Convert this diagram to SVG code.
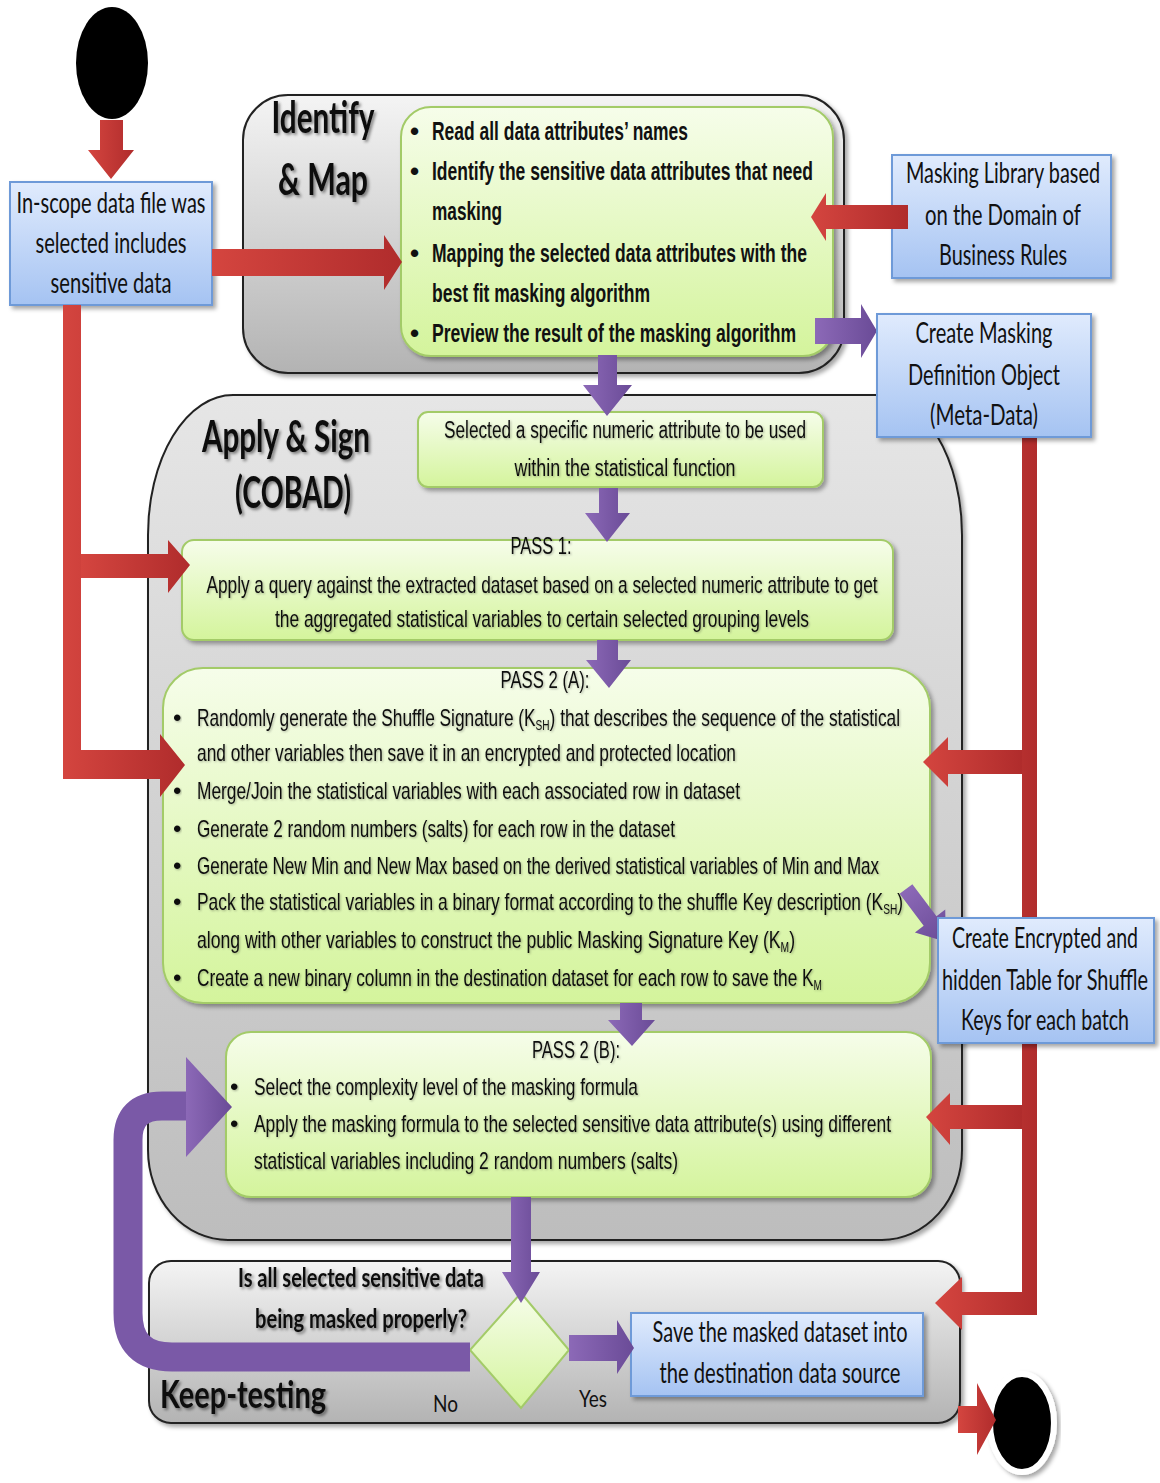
<svg xmlns="http://www.w3.org/2000/svg" width="1160" height="1483" viewBox="0 0 1160 1483">
  <defs>
    <linearGradient id="gBlue" x1="0" y1="0" x2="0" y2="1">
      <stop offset="0" stop-color="#e0ebfd"/>
      <stop offset="1" stop-color="#a5c3f2"/>
    </linearGradient>
    <linearGradient id="gGreen" x1="0" y1="0" x2="0" y2="1">
      <stop offset="0" stop-color="#f6fdea"/>
      <stop offset="1" stop-color="#d4f49c"/>
    </linearGradient>
    <linearGradient id="gGrayA" x1="0" y1="0" x2="0" y2="1">
      <stop offset="0" stop-color="#f4f4f4"/>
      <stop offset="1" stop-color="#b3b3b3"/>
    </linearGradient>
    <linearGradient id="gGrayB" x1="0" y1="0" x2="0" y2="1">
      <stop offset="0" stop-color="#e6e6e6"/>
      <stop offset="1" stop-color="#bdbdbd"/>
    </linearGradient>
    <linearGradient id="gRed" x1="0" y1="0" x2="1" y2="0">
      <stop offset="0" stop-color="#d4453f"/>
      <stop offset="1" stop-color="#b02c2c"/>
    </linearGradient>
    <linearGradient id="gPurple" x1="0" y1="0" x2="1" y2="0">
      <stop offset="0" stop-color="#8c69b7"/>
      <stop offset="1" stop-color="#6a4b97"/>
    </linearGradient>
    <filter id="shadow" x="-10%" y="-10%" width="120%" height="130%">
      <feDropShadow dx="3" dy="3" stdDeviation="2" flood-color="#000" flood-opacity="0.35"/>
    </filter>
    <filter id="tshadow" x="-10%" y="-20%" width="130%" height="150%">
      <feDropShadow dx="2" dy="2" stdDeviation="1.5" flood-color="#000" flood-opacity="0.45"/>
    </filter>
    <filter id="lshadow" x="-5%" y="-20%" width="110%" height="150%">
      <feDropShadow dx="1" dy="1" stdDeviation="0.8" flood-color="#000" flood-opacity="0.3"/>
    </filter>
  </defs>
  <style>
    .blue { fill: url(#gBlue); stroke: #6e9ad8; stroke-width: 2; filter: url(#shadow); }
    .green { fill: url(#gGreen); stroke: #a3cb68; stroke-width: 2; filter: url(#shadow); }
    .lane { stroke: #222; stroke-width: 2; filter: url(#shadow); }
    .red { fill: url(#gRed); }
    .purple { fill: url(#gPurple); }
    .t { font-family: "Liberation Sans", Arial, sans-serif; font-size: 24px; fill: #111; filter: url(#lshadow); }
    .tb { font-family: "Liberation Sans", Arial, sans-serif; font-size: 26px; font-weight: bold; fill: #111; }
    .c { font-family: Lato, "Open Sans", sans-serif; font-size: 28px; fill: #111; }
    .title { font-family: Lato, "Open Sans", sans-serif; font-size: 44px; font-weight: bold; fill: #111; filter: url(#tshadow); }
    .q { font-family: Lato, "Open Sans", sans-serif; font-size: 26px; font-weight: bold; fill: #111; filter: url(#tshadow); }
    .m { text-anchor: middle; }
    .sub { font-size: 14px; }
  </style>

  <!-- swimlane containers -->
  <g id="lane-identify">
    <rect class="lane" x="243" y="95" width="601" height="278" rx="45" ry="45" fill="url(#gGrayA)"/>
    <text class="title m" x="323" y="133" textLength="103" lengthAdjust="spacingAndGlyphs">Identify</text>
    <text class="title m" x="323" y="195" textLength="90" lengthAdjust="spacingAndGlyphs">&amp; Map</text>
  </g>
  <g id="lane-apply">
    <path class="lane" fill="url(#gGrayB)" d="M233,395 H877 A85,140 0 0 1 962,535 V1150 A80,90 0 0 1 882,1240 H228 A80,90 0 0 1 148,1150 V535 A85,140 0 0 1 233,395 Z"/>
    <text class="title m" x="286" y="452" textLength="168" lengthAdjust="spacingAndGlyphs">Apply &amp; Sign</text>
    <text class="title m" x="293" y="508" textLength="116" lengthAdjust="spacingAndGlyphs">(COBAD)</text>
  </g>
  <g id="lane-keep-testing">
    <rect class="lane" x="149" y="1261" width="811" height="162" rx="22" ry="22" fill="url(#gGrayA)"/>
    <text class="title" x="160" y="1408" style="font-size:38px" textLength="166" lengthAdjust="spacingAndGlyphs">Keep-testing</text>
  </g>

  <!-- start node -->
  <g id="start">
    <ellipse cx="112" cy="63" rx="36" ry="56" fill="#000"/>
  </g>

  <!-- source file -->
  <g id="in-scope">
    <rect class="blue" x="10" y="182" width="202" height="123"/>
    <text class="c m" x="111" y="213" textLength="189" lengthAdjust="spacingAndGlyphs">In-scope data file was</text>
    <text class="c m" x="111" y="253" textLength="151" lengthAdjust="spacingAndGlyphs">selected includes</text>
    <text class="c m" x="111" y="293" textLength="121" lengthAdjust="spacingAndGlyphs">sensitive data</text>
  </g>

  <!-- identify & map steps -->
  <g id="identify-steps">
    <rect class="green" x="401" y="107" width="432" height="249" rx="30" ry="30"/>
    <text class="tb" x="410" y="140">•</text>
    <text class="tb" x="432" y="140" textLength="256" lengthAdjust="spacingAndGlyphs">Read all data attributes’ names</text>
    <text class="tb" x="410" y="180">•</text>
    <text class="tb" x="432" y="180" textLength="381" lengthAdjust="spacingAndGlyphs">Identify the sensitive data attributes that need</text>
    <text class="tb" x="432" y="220" textLength="70" lengthAdjust="spacingAndGlyphs">masking</text>
    <text class="tb" x="410" y="262">•</text>
    <text class="tb" x="432" y="262" textLength="375" lengthAdjust="spacingAndGlyphs">Mapping the selected data attributes with the</text>
    <text class="tb" x="432" y="302" textLength="218" lengthAdjust="spacingAndGlyphs">best fit masking algorithm</text>
    <text class="tb" x="410" y="342">•</text>
    <text class="tb" x="432" y="342" textLength="364" lengthAdjust="spacingAndGlyphs">Preview the result of the masking algorithm</text>
  </g>

  <g id="masking-library">
    <rect class="blue" x="892" y="155" width="219" height="123"/>
    <text class="c m" x="1003" y="183" textLength="194" lengthAdjust="spacingAndGlyphs">Masking Library based</text>
    <text class="c m" x="1003" y="225" textLength="156" lengthAdjust="spacingAndGlyphs">on the Domain of</text>
    <text class="c m" x="1003" y="265" textLength="128" lengthAdjust="spacingAndGlyphs">Business Rules</text>
  </g>

  <!-- apply & sign steps -->
  <g id="select-attribute">
    <rect class="green" x="418" y="412" width="405" height="75" rx="10" ry="10"/>
    <text class="t m" x="625" y="438" style="font-size:23px" textLength="362" lengthAdjust="spacingAndGlyphs">Selected a specific numeric attribute to be used</text>
    <text class="t m" x="625" y="476" style="font-size:23px" textLength="221" lengthAdjust="spacingAndGlyphs">within the statistical function</text>
  </g>

  <g id="pass-1">
    <rect class="green" x="182" y="540" width="711" height="100" rx="12" ry="12"/>
    <text class="t m" x="541" y="554" textLength="61" lengthAdjust="spacingAndGlyphs">PASS 1:</text>
    <text class="t m" x="542" y="593" textLength="671" lengthAdjust="spacingAndGlyphs">Apply a query against the extracted dataset based on a selected numeric attribute to get</text>
    <text class="t m" x="542" y="627" textLength="534" lengthAdjust="spacingAndGlyphs">the aggregated statistical variables to certain selected grouping levels</text>
  </g>

  <g id="pass-2a">
    <rect class="green" x="163" y="668" width="767" height="335" rx="40" ry="40"/>
    <text class="t m" x="545" y="688" textLength="89" lengthAdjust="spacingAndGlyphs">PASS 2 (A):</text>
    <text class="t" x="173" y="726">•</text>
    <text class="t" x="197" y="726" textLength="703" lengthAdjust="spacingAndGlyphs">Randomly generate the Shuffle Signature (K<tspan class="sub" baseline-shift="-4">SH</tspan>) that describes the sequence of the statistical</text>
    <text class="t" x="197" y="761" textLength="539" lengthAdjust="spacingAndGlyphs">and other variables then save it in an encrypted and protected location</text>
    <text class="t" x="173" y="799">•</text>
    <text class="t" x="197" y="799" textLength="543" lengthAdjust="spacingAndGlyphs">Merge/Join the statistical variables with each associated row in dataset</text>
    <text class="t" x="173" y="837">•</text>
    <text class="t" x="197" y="837" textLength="478" lengthAdjust="spacingAndGlyphs">Generate 2 random numbers (salts) for each row in the dataset</text>
    <text class="t" x="173" y="874">•</text>
    <text class="t" x="197" y="874" textLength="682" lengthAdjust="spacingAndGlyphs">Generate New Min and New Max based on the derived statistical variables of Min and Max</text>
    <text class="t" x="173" y="910">•</text>
    <text class="t" x="197" y="910" textLength="706" lengthAdjust="spacingAndGlyphs">Pack the statistical variables in a binary format according to the shuffle Key description (K<tspan class="sub" baseline-shift="-4">SH</tspan>)</text>
    <text class="t" x="197" y="948" textLength="598" lengthAdjust="spacingAndGlyphs">along with other variables to construct  the public Masking Signature Key (K<tspan class="sub" baseline-shift="-4">M</tspan>)</text>
    <text class="t" x="173" y="986">•</text>
    <text class="t" x="197" y="986" textLength="625" lengthAdjust="spacingAndGlyphs">Create a new binary column in the destination dataset for each row to save the K<tspan class="sub" baseline-shift="-4">M</tspan></text>
  </g>

  <g id="pass-2b">
    <rect class="green" x="226" y="1032" width="705" height="165" rx="25" ry="25"/>
    <text class="t m" x="576" y="1058" textLength="88" lengthAdjust="spacingAndGlyphs">PASS 2 (B):</text>
    <text class="t" x="230" y="1095">•</text>
    <text class="t" x="254" y="1095" textLength="384" lengthAdjust="spacingAndGlyphs">Select the complexity level of the masking formula</text>
    <text class="t" x="230" y="1132">•</text>
    <text class="t" x="254" y="1132" textLength="637" lengthAdjust="spacingAndGlyphs">Apply the masking formula to the selected sensitive data attribute(s) using different</text>
    <text class="t" x="254" y="1169" textLength="424" lengthAdjust="spacingAndGlyphs">statistical variables including 2 random numbers (salts)</text>
  </g>

  <!-- keep-testing decision -->
  <g id="decision">
    <polygon points="521,1293 569,1350 521,1408 470,1350" fill="url(#gGreen)" stroke="#a3cb68" stroke-width="2"/>
    <text class="q m" x="361" y="1287" textLength="246" lengthAdjust="spacingAndGlyphs">Is all selected sensitive data</text>
    <text class="q m" x="361" y="1328" textLength="212" lengthAdjust="spacingAndGlyphs">being masked properly?</text>
    <text class="c" x="433" y="1412" style="font-size:24px" textLength="25" lengthAdjust="spacingAndGlyphs">No</text>
    <text class="c" x="579" y="1407" style="font-size:24px" textLength="28" lengthAdjust="spacingAndGlyphs">Yes</text>
  </g>

  <g id="save-dataset">
    <rect class="blue" x="631" y="1313" width="292" height="83"/>
    <text class="c m" x="780" y="1342" textLength="255" lengthAdjust="spacingAndGlyphs">Save the masked dataset into</text>
    <text class="c m" x="780" y="1383" textLength="241" lengthAdjust="spacingAndGlyphs">the destination data source</text>
  </g>

  <!-- end node -->
  <g id="end">
    <ellipse cx="1022" cy="1423" rx="32" ry="49" fill="#000" stroke="#fff" stroke-width="6" filter="url(#shadow)"/>
  </g>

  <!-- connectors -->
  <g id="connectors">
    <!-- red flows -->
    <polygon class="red" points="100,120 123,120 123,150 134,150 111,179 88,150 100,150"/>
    <polygon class="red" points="212,249 384,249 384,235 402,262 384,290 384,276 212,276"/>
    <polygon class="red" points="908,205 826,205 826,193 811,217 826,241 826,229 908,229"/>
    <path class="red" d="M63,305 H81 V750 H160 V734 L185,765 L160,797 V779 H63 Z"/>
    <polygon class="red" points="81,554 168,554 168,540 190,565 168,593 168,578 81,578"/>
    <path class="red" d="M1022,438 H1037 V1315 H962 V1330 L935,1303 L962,1277 V1292 H1022 Z"/>
    <polygon class="red" points="1022,750 948,750 948,737 923,762 948,787 948,774 1022,774"/>
    <polygon class="red" points="1022,1105 950,1105 950,1093 926,1117 950,1145 950,1129 1022,1129"/>
    <polygon class="red" points="958,1406 977,1406 977,1383 996,1420 977,1455 977,1433 958,1433"/>
    <!-- purple flows -->
    <polygon class="purple" points="598,355 617,355 617,385 632,385 607,416 583,385 598,385"/>
    <polygon class="purple" points="815,318 861,318 861,304 877,331 861,358 861,344 815,344"/>
    <polygon class="purple" points="599,488 618,488 618,513 630,513 607,542 585,513 599,513"/>
    <polygon class="purple" points="597,640 618,640 618,660 631,660 609,688 586,660 597,660"/>
    <polygon class="purple" points="620,1003 642,1003 642,1020 655,1020 632,1046 608,1020 620,1020"/>
    <polygon class="purple" points="511,1197 531,1197 531,1272 540,1272 521,1303 502,1272 511,1272"/>
    <polygon class="purple" points="569,1335 617,1335 617,1320 634,1348 617,1374 617,1361 569,1361"/>
    <polygon class="purple" transform="translate(906,889) rotate(53)" points="0,-8 40,-8 40,-19 66,0 40,19 40,8 0,8"/>
    <path d="M470,1357 H172 Q128,1357 128,1313 V1140 Q128,1106 162,1106 H188" fill="none" stroke="#7a59a7" stroke-width="29"/>
    <polygon class="purple" points="186,1057 232,1107 186,1157"/>
  </g>

  <!-- side outputs drawn over the flow lines -->
  <g id="masking-definition">
    <rect class="blue" x="877" y="314" width="214" height="123"/>
    <text class="c m" x="984" y="343" textLength="137" lengthAdjust="spacingAndGlyphs">Create Masking</text>
    <text class="c m" x="984" y="385" textLength="152" lengthAdjust="spacingAndGlyphs">Definition Object</text>
    <text class="c m" x="984" y="425" textLength="108" lengthAdjust="spacingAndGlyphs">(Meta-Data)</text>
  </g>
  <g id="shuffle-table">
    <rect class="blue" x="938" y="918" width="216" height="125"/>
    <text class="c m" x="1045" y="948" textLength="186" lengthAdjust="spacingAndGlyphs">Create Encrypted and</text>
    <text class="c m" x="1045" y="990" textLength="206" lengthAdjust="spacingAndGlyphs">hidden Table for Shuffle</text>
    <text class="c m" x="1045" y="1030" textLength="168" lengthAdjust="spacingAndGlyphs">Keys for each batch</text>
  </g>
</svg>
